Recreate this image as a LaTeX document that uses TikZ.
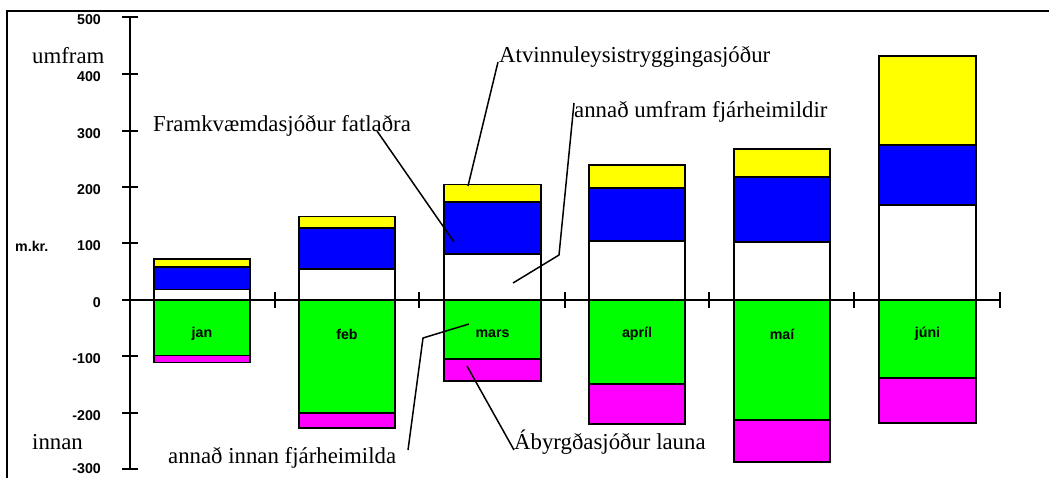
\documentclass[tikz,border=0pt]{standalone}
\usepackage{fontspec}
\setmainfont{Liberation Serif}
\setsansfont{Liberation Sans}
\definecolor{cyel}{RGB}{255,255,0}
\definecolor{cblu}{RGB}{0,0,255}
\definecolor{cgrn}{RGB}{0,255,0}
\definecolor{cmag}{RGB}{255,0,255}
\begin{document}
\begin{tikzpicture}[x=1pt,y=-1pt,
  seg/.style={draw=black,line width=1.6pt},
  ax/.style={line width=1.6pt},
  lead/.style={line width=1.5pt},
  num/.style={font=\fontsize{14.2}{16}\selectfont\sffamily\bfseries,inner sep=0pt},
  lbl/.style={font=\fontsize{22.8}{26}\selectfont,inner sep=0pt,anchor=base west}]
\useasboundingbox (0,0) rectangle (1049,477);
% frame (right and bottom edges fall outside)
\draw[line width=1.8pt] (7,480) -- (7,11) -- (1052,11);
% y axis
\draw[ax] (130,17) -- (130,469);
\foreach \v/\yy/\dy in {500/17/2.5,400/74/2.5,300/131/2.5,200/187/2.5,100/243/2.5,0/300/2.5,-100/356/2.5,-200/413/2.5,-300/469/0}{
  \draw[ax] (122,\yy) -- (138,\yy);
  \node[num,anchor=east] (t\v) at (101,\yy+\dy) {\v};
}
\node[num,anchor=west] (mkr) at (15,246) {m.kr.};
% bars: left/right/yellow/blue/white/green/magenta/label
\foreach \xl/\xr/\ya/\yb/\yc/\yd/\ye/\m in {
  154/250/259/266.7/289.3/355.3/362.3/jan,
  299/395/216.5/227.7/269/412.7/427.7/feb,
  444/541/184.3/201.7/254/359/381/mars,
  589/685/165/188/241/384/424/apríl,
  734/830/149/177/242/420/462/maí,
  879/976/56/145/205/378/423/júni}{
  \draw[seg,fill=cyel] (\xl,\ya) rectangle (\xr,\yb);
  \draw[seg,fill=cblu] (\xl,\yb) rectangle (\xr,\yc);
  \draw[seg,fill=white] (\xl,\yc) rectangle (\xr,300);
  \draw[seg,fill=cgrn] (\xl,300) rectangle (\xr,\yd);
  \draw[seg,fill=cmag] (\xl,\yd) rectangle (\xr,\ye);
  \node[num] (m\xl) at ({(\xl+\xr)/2},334) {\m};
}
% x axis
\draw[ax] (122,300) -- (1000,300);
\foreach \xx in {275,419,565,709,854,1000}{
  \draw[ax] (\xx,292) -- (\xx,308);
}
% labels
\node[lbl] (umf) at (32,63) {umfram};
\node[lbl] (inn) at (32,449.5) {innan};
\node[lbl] (fra) at (153,131) {Framkvæmdasjóður fatlaðra};
\node[lbl] (atv) at (499,62) {Atvinnuleysistryggingasjóður};
\node[lbl] (aum) at (574,117) {annað umfram fjárheimildir};
\node[lbl] (ain) at (168,463) {annað innan fjárheimilda};
\node[lbl] (aby) at (514,449) {Ábyrgðasjóður launa};
% leader ends
\coordinate (fraS) at (377,131);
\coordinate (fraE) at (454,242);
\coordinate (atvS) at (498,62);
\coordinate (atvE) at (468,186);
\coordinate (aumS) at (574,103);
\coordinate (aumK) at (559,255);
\coordinate (aumE) at (513,283);
\coordinate (ainS) at (408,450);
\coordinate (ainK) at (423,338);
\coordinate (ainE) at (469,324);
\coordinate (abyS) at (514,450);
\coordinate (abyE) at (467,366);
\draw[lead] (fraS) -- (fraE);
\draw[lead] (atvS) -- (atvE);
\draw[lead] (aumS) -- (aumK) -- (aumE);
\draw[lead] (ainS) -- (ainK) -- (ainE);
\draw[lead] (abyS) -- (abyE);
\end{tikzpicture}
\end{document}
